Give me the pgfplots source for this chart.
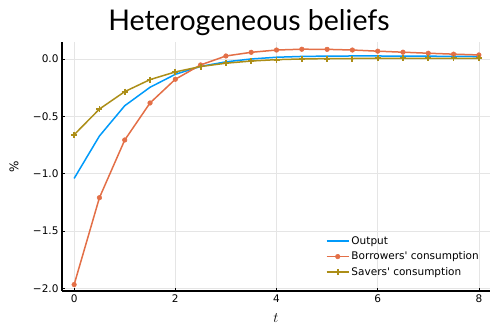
\documentclass[border=0pt]{standalone}
\usepackage{fontspec}
\setmainfont{DejaVu Sans}[Ligatures=TeXOff]
\newfontfamily\titlefont{Lato}
\usepackage{pgfplots}
\pgfplotsset{compat=1.18}
\definecolor{c1}{RGB}{0,154,250}
\definecolor{c2}{RGB}{227,111,71}
\definecolor{c3}{RGB}{172,142,24}
\begin{document}
\begin{tikzpicture}
\useasboundingbox (0,0) rectangle (490pt,324pt);
\begin{axis}[
  at={(62pt,33pt)}, anchor=south west,
  scale only axis, width=428pt, height=249pt,
  xmin=-0.24, xmax=8.22, ymin=-2.024, ymax=0.148,
  axis x line*=bottom, axis y line*=left,
  axis line style={line width=1.1pt, black},
  xtick={0,2,4,6,8}, xticklabels={0,2,4,6,8},
  ytick={-2,-1.5,-1,-0.5,0},
  yticklabels={−2.0,−1.5,−1.0,−0.5,0.0},
  tick align=inside, major tick length=3pt,
  tick style={black, line width=0.5pt},
  grid=major, grid style={black!10, line width=0.5pt},
  ticklabel style={font=\fontsize{10.5}{12}\selectfont},
  xlabel={$t$}, ylabel={\%},
  every axis x label/.style={at={(rel axis cs:0.5,0)}, anchor=center, yshift=-27pt, font=\fontsize{14}{16}\selectfont},
  every axis y label/.style={at={(rel axis cs:0,0.5)}, anchor=center, rotate=90, yshift=48pt, font=\fontsize{12}{14}\selectfont},
  legend style={draw=none, fill=none, at={(rel axis cs:1,0)}, anchor=south east, xshift=-6pt, yshift=10pt, font=\fontsize{10.5}{12}\selectfont, row sep=2pt},
  legend cell align=left,
  legend image code/.code={\draw[#1, mark repeat=2, mark phase=2] plot coordinates {(0pt,0pt) (11pt,0pt) (22pt,0pt)};},
]
\addplot[c1, line width=1.5pt, mark=none, legend image code/.code={\draw[c1, line width=1.5pt] (0pt,0pt) -- (22pt,0pt);}] coordinates {
(0,-1.042) (0.5,-0.672) (1,-0.408) (1.5,-0.247) (2,-0.134) (2.5,-0.065) (3,-0.025) (3.5,0.0) (4,0.015) (4.5,0.022) (5,0.025) (5.5,0.026) (6,0.026) (6.5,0.025) (7,0.024) (7.5,0.023) (8,0.021)};
\addlegendentry{Output}
\addplot[c2, line width=1.5pt, mark=*, mark size=2.3pt, mark options={fill=c2, draw=c2, line width=0.5pt}] coordinates {
(0,-1.968) (0.5,-1.21) (1,-0.707) (1.5,-0.384) (2,-0.177) (2.5,-0.052) (3,0.026) (3.5,0.058) (4,0.078) (4.5,0.085) (5,0.084) (5.5,0.078) (6,0.068) (6.5,0.059) (7,0.050) (7.5,0.042) (8,0.035)};
\addlegendentry{Borrowers' consumption}
\addplot[c3, line width=1.5pt, mark=+, mark size=3pt, mark options={line width=1.8pt}] coordinates {
(0,-0.661) (0.5,-0.437) (1,-0.285) (1.5,-0.18) (2,-0.113) (2.5,-0.066) (3,-0.037) (3.5,-0.018) (4,-0.006) (4.5,0.0) (5,0.003) (5.5,0.004) (6,0.005) (6.5,0.005) (7,0.005) (7.5,0.005) (8,0.005)};
\addlegendentry{Savers' consumption}
\end{axis}
\node[anchor=base, font=\titlefont\fontsize{28.5}{34}\selectfont, inner sep=0pt] at (249pt,293pt) {Heterogeneous beliefs};
\end{tikzpicture}
\end{document}
